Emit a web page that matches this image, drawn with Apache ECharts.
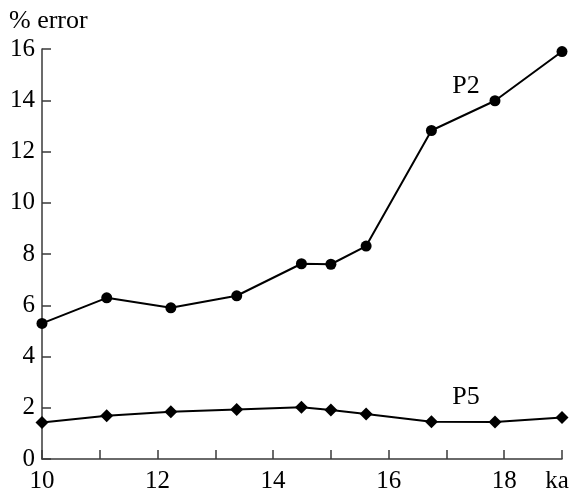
<!DOCTYPE html>
<html>
<head>
<meta charset="utf-8">
<script src="https://cdn.jsdelivr.net/npm/echarts@6/dist/echarts.min.js"></script>
<style>html,body{margin:0;padding:0;background:#fff}#c{width:573px;height:490px}</style>
</head>
<body>
<div id="c"></div>
<script>
const yTicks = [0, 2, 4, 6, 8, 10, 12, 14, 16];
const xLabels = {10: '10', 12: '12', 14: '14', 16: '16', 18: '18', 19: 'ka'};
const p2X = [10, 11.12, 12.23, 13.37, 14.49, 15.0, 15.61, 16.74, 17.84, 19.0];
const p2Y = [5.29, 6.29, 5.90, 6.37, 7.62, 7.60, 8.31, 12.82, 13.98, 15.9];
const p5X = [10, 11.12, 12.23, 13.37, 14.49, 15.0, 15.61, 16.74, 17.84, 19.0];
const p5Y = [1.42, 1.69, 1.84, 1.93, 2.02, 1.91, 1.76, 1.45, 1.44, 1.62];

const FONT = 'Liberation Serif';
const chart = echarts.init(document.getElementById('c'), null, {renderer: 'canvas'});
const axisCol = '#3a3a3a';
chart.setOption({
  animation: false,
  backgroundColor: '#fff',
  grid: {left: 42, right: 11, top: 49, bottom: 31, containLabel: false, outerBoundsMode: 'none'},
  xAxis: {
    type: 'value', min: 10, max: 19, interval: 1,
    axisLine: {lineStyle: {color: axisCol, width: 1.5}},
    axisTick: {inside: true, length: 9, lineStyle: {color: axisCol, width: 1.5}},
    splitLine: {show: false},
    axisLabel: {
      color: '#000', fontFamily: FONT, fontSize: 25, margin: 10,
      formatter: v => xLabels[v] !== undefined ? (v === 19 ? '{ka|ka}' : xLabels[v]) : '',
      rich: {ka: {fontFamily: FONT, fontSize: 25, color: '#000', padding: [0, 10, 0, 0]}}
    }
  },
  yAxis: {
    type: 'value', min: yTicks[0], max: yTicks[yTicks.length - 1], interval: 2,
    axisLine: {show: true, lineStyle: {color: axisCol, width: 1.5}},
    axisTick: {show: true, inside: true, length: 9, lineStyle: {color: axisCol, width: 1.5}},
    splitLine: {show: false},
    axisLabel: {color: '#000', fontFamily: FONT, fontSize: 25, margin: 7}
  },
  graphic: [
    {type: 'text', x: 9, y: 8, style: {text: '% error', fontFamily: FONT, fontSize: 26, fill: '#000', verticalAlign: 'top'}},
    {type: 'text', x: 466, y: 86, style: {text: 'P2', fontFamily: FONT, fontSize: 26, fill: '#000', align: 'center', verticalAlign: 'middle'}},
    {type: 'text', x: 466, y: 397, style: {text: 'P5', fontFamily: FONT, fontSize: 26, fill: '#000', align: 'center', verticalAlign: 'middle'}}
  ],
  series: [
    {
      type: 'line', data: p2X.map((x, i) => [x, p2Y[i]]),
      symbol: 'circle', symbolSize: 11,
      lineStyle: {color: '#000', width: 2}, itemStyle: {color: '#000'}
    },
    {
      type: 'line', data: p5X.map((x, i) => [x, p5Y[i]]),
      symbol: 'diamond', symbolSize: [13, 13],
      lineStyle: {color: '#000', width: 2}, itemStyle: {color: '#000'}
    }
  ]
});
</script>
</body>
</html>
